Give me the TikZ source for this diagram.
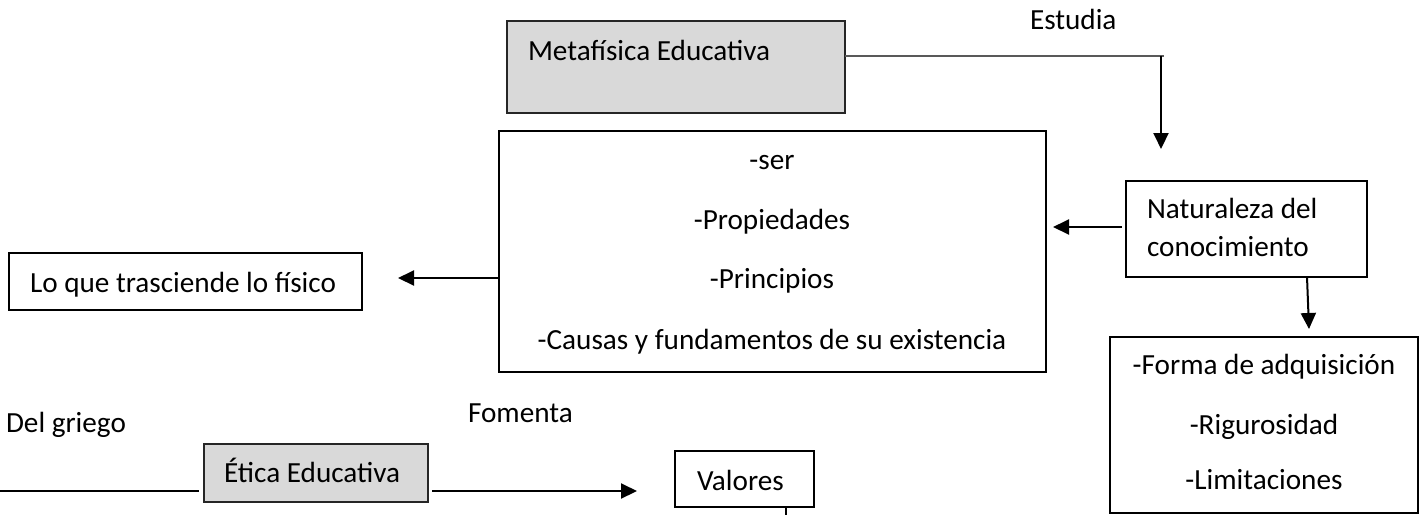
\documentclass[tikz,border=0pt]{standalone}
\usepackage{fontspec}
\setmainfont{Carlito}
\usetikzlibrary{arrows.meta,calc}
\definecolor{boxgray}{HTML}{D9D9D9}
\definecolor{linegray}{HTML}{595959}
\begin{document}
\begin{tikzpicture}[x=1pt,y=-1pt,
  every node/.style={font=\fontsize{29.2}{35}\selectfont, inner sep=0pt, outer sep=0pt},
  box/.style={draw=black, line width=1.2pt, anchor=north west},
  graybox/.style={box, fill=boxgray, draw=black!85},
  txt/.style={anchor=base},
  txtl/.style={anchor=base west},
  arr/.style={line width=2pt, -{Triangle[length=16pt,width=15pt]}},
  plain/.style={line width=2pt},
  grayline/.style={line width=1.8pt, draw=linegray},
]
\useasboundingbox (0,0) rectangle (1420,515);

% boxes
\node[graybox, minimum width=338pt, minimum height=92pt] (meta) at (507,21) {};
\node[box, minimum width=547pt, minimum height=241pt] (big) at (499,131) {};
\node[box, minimum width=353pt, minimum height=57pt] (loque) at (9,253) {};
\node[box, minimum width=241pt, minimum height=96pt] (nat) at (1126,181) {};
\node[box, minimum width=308pt, minimum height=176pt] (forma) at (1110,337) {};
\node[graybox, minimum width=224pt, minimum height=58pt] (etica) at (204,444) {};
\node[box, line width=2.2pt, minimum width=139pt, minimum height=56pt] (val) at (675,451) {};

% texts
\node[txtl] (metaT) at (528,60) {Metafísica Educativa};
\node[txtl] (estudia) at (1030,29) {Estudia};
\node[txt] (ser) at (772,169) {-ser};
\node[txt] (prop) at (772,229) {-Propiedades};
\node[txt] (princ) at (772,288) {-Principios};
\node[txt] (causas) at (772,349) {-Causas y fundamentos de su existencia};
\node[txtl] (loqueT) at (30,292) {Lo que trasciende lo físico};
\node[txtl] (natT1) at (1147,218) {Naturaleza del};
\node[txtl] (natT2) at (1147,256) {conocimiento};
\node[txt] (formaT1) at (1264,374) {-Forma de adquisición};
\node[txt] (formaT2) at (1264,434) {-Rigurosidad};
\node[txt] (formaT3) at (1264,489) {-Limitaciones};
\node[txtl] (eticaT) at (224,482) {Ética Educativa};
\node[txtl] (valT) at (697,490) {Valores};
\node[txtl] (fomenta) at (468,422) {Fomenta};
\node[txtl] (griego) at (6,432) {Del griego};

% helper coordinates
\coordinate (c1) at (1164,56);
\coordinate (t1) at (1161,149);
\coordinate (yA) at (0,278);
\coordinate (yN) at (0,227);
\coordinate (lstart) at (0,491);
\coordinate (vend) at (786,515);

% connectors
\draw[grayline] (meta.east |- c1) -- (c1);
\draw[arr] (t1 |- c1) -- (t1);
\draw[arr] ([xshift=-4pt]nat.west |- yN) -- ([xshift=7pt]big.east |- yN);
\draw[arr] ([xshift=60.5pt]nat.south) -- ([xshift=45pt,yshift=8pt]forma.north);
\draw[arr] (big.west |- yA) -- ([xshift=36pt]loque.east |- yA);
\draw[plain] (lstart) -- ([xshift=-5pt]etica.west |- lstart);
\draw[arr] ([xshift=4pt]etica.east |- lstart) -- ([xshift=-38pt]val.west |- lstart);
\draw[line width=1.5pt] (val.south -| vend) -- (vend);
\end{tikzpicture}
\end{document}
